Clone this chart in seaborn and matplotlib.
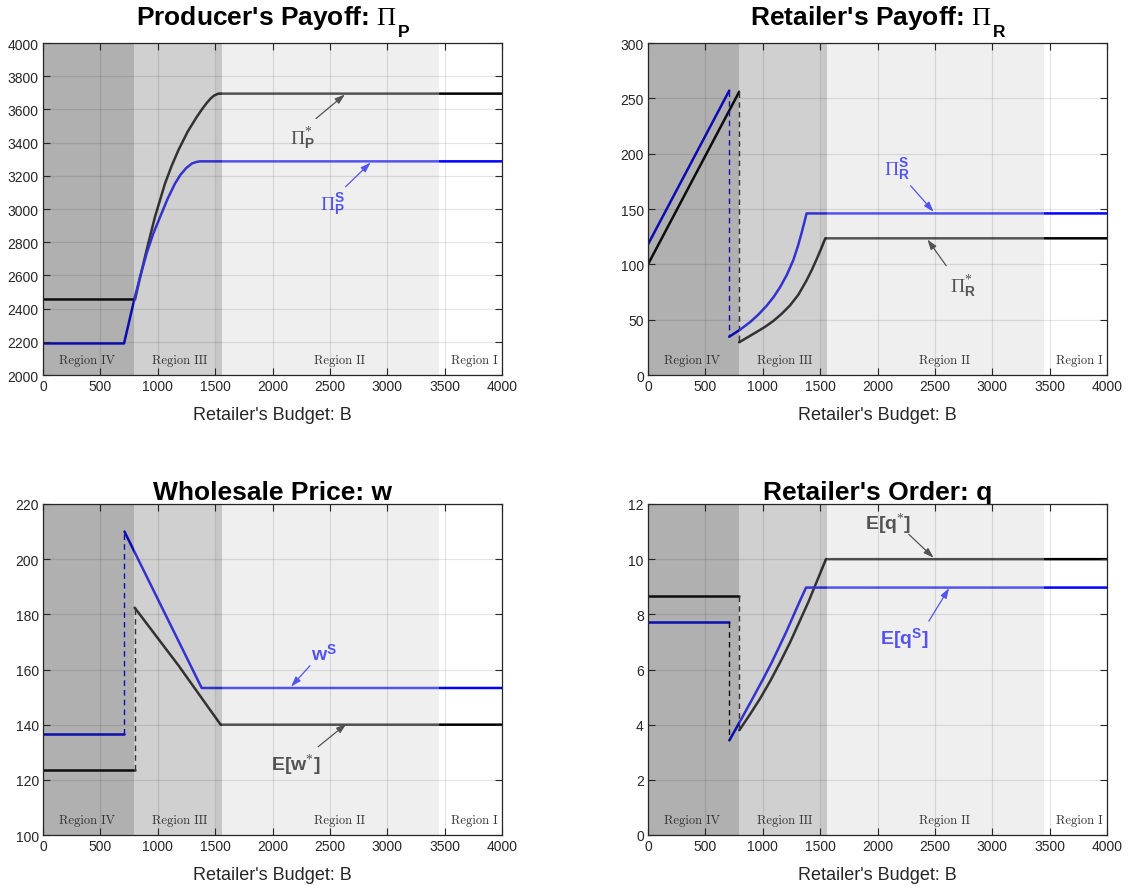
import numpy as np
import pandas as pd
import matplotlib
matplotlib.use("Agg")
import matplotlib.pyplot as plt
from matplotlib.transforms import offset_copy
import seaborn as sns

# budget regions (Region IV, III, the darker seam, II); Region I is left white
region_edges = [0, 793, 1508, 1557, 3453]
region_names = ["Region IV", "Region III", "Region II", "Region I"]
region_label_x = [381, 1194, 2588, 3759]

# producer's payoff
pp_star_B = [0, 802, 850, 903, 976, 1063, 1120, 1179, 1260, 1339, 1390, 1426, 1460, 1490, 1528, 4000]
pp_star_v = [2455, 2455, 2600, 2753, 2953, 3153, 3258, 3353, 3465, 3554, 3605, 3638, 3665, 3683, 3695, 3695]
pp_s_B = [0, 706, 760, 802, 850, 903, 960, 1021, 1085, 1150, 1200, 1250, 1300, 1340, 1368, 4000]
pp_s_v = [2190, 2190, 2350, 2473, 2600, 2733, 2850, 2953, 3060, 3153, 3208, 3248, 3275, 3284, 3287, 3287]

# retailer's payoff (jump at the end of region IV)
pr_star_B1 = [0, 795]
pr_star_v1 = [100, 256]
pr_star_B2 = [795, 940, 1020, 1092, 1165, 1237, 1310, 1382, 1430, 1469, 1510, 1545, 4000]
pr_star_v2 = [29.6, 38.5, 43.5, 48.8, 55.3, 62.8, 72.5, 85.5, 95.5, 104.5, 114.5, 123.5, 123.5]
pr_s_B1 = [0, 708]
pr_s_v1 = [118, 257]
pr_s_B2 = [708, 800, 890, 960, 1034, 1095, 1150, 1210, 1267, 1305, 1339, 1382, 4000]
pr_s_v2 = [34.6, 40.8, 47.8, 54.4, 62.6, 70.5, 79.2, 90.5, 104, 116, 128.5, 146, 146]

# wholesale price
w_star_B1 = [0, 799]
w_star_v1 = [123.4, 123.4]
w_star_B2 = [799, 1180, 1548, 4000]
w_star_v2 = [182.4, 161.5, 140, 140]
w_s_B1 = [0, 710]
w_s_v1 = [136.6, 136.6]
w_s_B2 = [710, 1383, 4000]
w_s_v2 = [210, 153.3, 153.3]

# retailer's order
q_star_B1 = [0, 796]
q_star_v1 = [8.67, 8.67]
q_star_B2 = [796, 890, 976, 1065, 1150, 1240, 1325, 1400, 1470, 1551, 4000]
q_star_v2 = [3.8, 4.38, 4.94, 5.58, 6.25, 7.0, 7.78, 8.47, 9.18, 10.0, 10.0]
q_s_B1 = [0, 709]
q_s_v1 = [7.73, 7.73]
q_s_B2 = [709, 802, 900, 1005, 1080, 1150, 1210, 1267, 1320, 1377, 4000]
q_s_v2 = [3.43, 4.12, 4.86, 5.67, 6.27, 6.88, 7.41, 7.95, 8.45, 8.97, 8.97]

sns.set_style("ticks")
plt.rcParams["font.family"] = ["Liberation Sans", "DejaVu Sans"]
plt.rcParams["mathtext.fontset"] = "custom"
plt.rcParams["mathtext.rm"] = "Liberation Serif"
plt.rcParams["mathtext.bf"] = "Liberation Sans:bold"
plt.rcParams["mathtext.it"] = "Liberation Serif:italic"
plt.rcParams["mathtext.sf"] = "Liberation Sans"

BLACK = "#000000"
BLUE = "#0000ff"
AXC = "#262626"

# shading drawn over the curves, as in the original figure
shade = [("#242424", 0.36), ("#858585", 0.384), ("#737373", 0.40), ("#d8d8d8", 0.39)]

fig = plt.figure(figsize=(11.29, 8.95), dpi=100)
W, H = 1129, 895
boxes = [(43, 44, 502, 376), (648, 44, 1107, 376), (43, 505, 502, 836), (648, 505, 1107, 836)]
axes = [fig.add_axes([l / W, 1 - b / H, (r - l) / W, (b - t) / H]) for l, t, r, b in boxes]
renderer = fig.canvas.get_renderer()


def line(ax, B, v, color, ls="-", lw=1.8):
    df = pd.DataFrame({"B": B, "v": v})
    sns.lineplot(data=df, x="B", y="v", ax=ax, color=color, lw=lw, ls=ls,
                 sort=False, estimator=None, zorder=1.5)


def jump(ax, B1, v1, v2, color):
    line(ax, [B1[-1], B1[-1]], [v1[-1], v2[0]], color, ls=(0, (4, 3)), lw=1.0)


def label(ax, txt, pos, tail, head, color, size=14):
    ax.annotate("", xy=head, xytext=tail, zorder=1.5,
                arrowprops=dict(arrowstyle="-|>,head_length=0.6,head_width=0.2",
                                color=color, lw=0.9, shrinkA=0, shrinkB=0))
    ax.text(pos[0], pos[1], txt, color=color, fontsize=size, ha="center",
            va="center", zorder=1.5)


def title(ax, main, sub=None):
    base = 13.7 if sub else 3.6
    t1 = ax.text(0.5, 1, main, transform=ax.transAxes, fontsize=19, color="black",
                 fontweight="bold", ha="left", va="baseline")
    w1 = t1.get_window_extent(renderer).width * 0.72
    w2, gap = 0, 0
    if sub:
        t2 = ax.text(0.5, 1, sub, transform=ax.transAxes, fontsize=12.5, color="black",
                     fontweight="bold", ha="left", va="baseline")
        w2 = t2.get_window_extent(renderer).width * 0.72
        gap = 0.8
    x0 = -(w1 + gap + w2) / 2
    t1.set_transform(offset_copy(ax.transAxes, fig=fig, x=x0, y=base, units="points"))
    if sub:
        t2.set_transform(offset_copy(ax.transAxes, fig=fig, x=x0 + w1 + gap, y=4.7,
                                     units="points"))


def style(ax, ylim, step):
    for i in range(4):
        c, a = shade[i]
        ax.axvspan(region_edges[i], region_edges[i + 1], color=c, alpha=a, lw=0, zorder=2)
    ax.set_xlim(0, 4000)
    ax.set_ylim(*ylim)
    ax.set_xticks(np.arange(0, 4001, 500))
    ax.set_yticks(np.arange(ylim[0], ylim[1] + step / 2, step))
    ax.set_axisbelow(False)
    ax.grid(True, color="black", alpha=0.1, lw=0.9)
    ax.tick_params(direction="in", top=True, right=True, length=5, width=0.8,
                   labelsize=10, colors=AXC, pad=3)
    for s in ax.spines.values():
        s.set_color(AXC)
        s.set_linewidth(0.9)
        s.set_zorder(3)
    ax.set_xlabel("Retailer's Budget: B", fontsize=13, color=AXC, labelpad=9)
    ax.set_ylabel("")
    for name, x in zip(region_names, region_label_x):
        ax.text(x, 0.045, name, transform=ax.get_xaxis_transform(), family="cmr10",
                fontsize=9, color="#333333", ha="center", va="center", zorder=3)


# Producer's payoff
ax = axes[0]
line(ax, pp_star_B, pp_star_v, BLACK)
line(ax, pp_s_B, pp_s_v, BLUE)
label(ax, r"$\Pi^{*}_{\mathbf{P}}$", (2264, 3430), (2379, 3545), (2631, 3690), BLACK)
label(ax, r"$\Pi^{\mathbf{S}}_{\mathbf{P}}$", (2522, 3029), (2637, 3134), (2855, 3280), BLUE)
style(ax, (2000, 4000), 200)
title(ax, r"Producer's Payoff: $\Pi$", "P")

# Retailer's payoff
ax = axes[1]
line(ax, pr_star_B1, pr_star_v1, BLACK)
line(ax, pr_star_B2, pr_star_v2, BLACK)
jump(ax, pr_star_B1, pr_star_v1, pr_star_v2, BLACK)
line(ax, pr_s_B1, pr_s_v1, BLUE)
line(ax, pr_s_B2, pr_s_v2, BLUE)
jump(ax, pr_s_B1, pr_s_v1, pr_s_v2, BLUE)
label(ax, r"$\Pi^{\mathbf{S}}_{\mathbf{R}}$", (2172, 186), (2289, 171), (2489, 147.5), BLUE)
label(ax, r"$\Pi^{*}_{\mathbf{R}}$", (2741, 80.6), (2599, 98.7), (2435, 122.5), BLACK)
style(ax, (0, 300), 50)
title(ax, r"Retailer's Payoff: $\Pi$", "R")

# Wholesale price
ax = axes[2]
line(ax, w_s_B1, w_s_v1, BLUE)
line(ax, w_s_B2, w_s_v2, BLUE)
jump(ax, w_s_B1, w_s_v1, w_s_v2, BLUE)
line(ax, w_star_B1, w_star_v1, BLACK)
line(ax, w_star_B2, w_star_v2, BLACK)
jump(ax, w_star_B1, w_star_v1, w_star_v2, BLACK)
label(ax, r"$\mathbf{w}^{\mathbf{S}}$", (2451, 165.7), (2327, 161.4), (2162, 153.8), BLUE)
label(ax, r"$\mathbf{E[w}^{*}\mathbf{]}$", (2202, 125.7), (2398, 132), (2644, 140.3), BLACK)
style(ax, (100, 220), 20)
title(ax, "Wholesale Price: w")

# Retailer's order
ax = axes[3]
line(ax, q_star_B1, q_star_v1, BLACK)
line(ax, q_star_B2, q_star_v2, BLACK)
jump(ax, q_star_B1, q_star_v1, q_star_v2, BLACK)
line(ax, q_s_B1, q_s_v1, BLUE)
line(ax, q_s_B2, q_s_v2, BLUE)
jump(ax, q_s_B1, q_s_v1, q_s_v2, BLACK)
label(ax, r"$\mathbf{E[q}^{*}\mathbf{]}$", (2093, 11.3), (2273, 10.9), (2489, 10.05), BLACK)
label(ax, r"$\mathbf{E[q}^{\mathbf{S}}\mathbf{]}$", (2235, 7.14), (2447, 7.75), (2624, 8.95), BLUE)
style(ax, (0, 12), 2)
title(ax, "Retailer's Order: q")

fig.savefig("out.png", dpi=100)
